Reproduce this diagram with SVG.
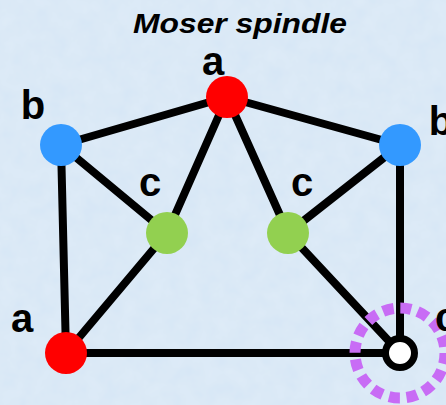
<svg xmlns="http://www.w3.org/2000/svg" width="446" height="405" viewBox="0 0 446 405">
<defs>
<style>
.e{stroke:#000;stroke-width:8;stroke-linecap:round;fill:none}
.lbl{font-family:"Liberation Sans",Arial,sans-serif;font-weight:bold;font-size:40px;fill:#000}
.ttl{font-family:"Liberation Sans",Arial,sans-serif;font-weight:bold;font-style:italic;font-size:28px;fill:#000}
.red{fill:#ff0000}
.blue{fill:#3399ff}
.green{fill:#92d050}
</style>
<filter id="tex" x="0" y="0" width="100%" height="100%">
<feTurbulence type="fractalNoise" baseFrequency="0.06" numOctaves="3" seed="3" result="n"/>
<feColorMatrix in="n" type="matrix" values="0 0 0 0 0.86  0 0 0 0 0.92  0 0 0 0 0.98  0 0 0 0.35 0" result="c"/>
<feComposite in="c" in2="SourceGraphic" operator="over"/>
</filter>
</defs>
<rect width="446" height="405" fill="#d6e6f5" filter="url(#tex)"/>
<text class="ttl" x="240" y="33" text-anchor="middle" textLength="214" lengthAdjust="spacingAndGlyphs">Moser spindle</text>
<g id="connectors">
<line class="e" x1="227" y1="97" x2="61" y2="145"/>
<line class="e" x1="227" y1="97" x2="400" y2="145"/>
<line class="e" x1="227" y1="97" x2="167" y2="233"/>
<line class="e" x1="227" y1="97" x2="288" y2="233"/>
<line class="e" x1="61" y1="145" x2="167" y2="233"/>
<line class="e" x1="400" y1="145" x2="288" y2="233"/>
<line class="e" x1="61" y1="145" x2="66" y2="353"/>
<line class="e" x1="66" y1="353" x2="167" y2="233"/>
<line class="e" x1="66" y1="353" x2="400" y2="353"/>
<line class="e" x1="288" y1="233" x2="400" y2="353"/>
<line class="e" x1="400" y1="145" x2="400" y2="353"/>
</g>
<g id="node-a-top"><circle class="red" cx="227" cy="97" r="21"/><text class="lbl" x="213" y="75" text-anchor="middle">a</text></g>
<g id="node-b-left"><circle class="blue" cx="61" cy="145" r="21"/><text class="lbl" x="33" y="119" text-anchor="middle">b</text></g>
<g id="node-b-right"><circle class="blue" cx="400" cy="145" r="21"/><text class="lbl" x="441" y="135" text-anchor="middle">b</text></g>
<g id="node-c-left"><circle class="green" cx="167" cy="233" r="21"/><text class="lbl" x="150" y="196" text-anchor="middle">c</text></g>
<g id="node-c-right"><circle class="green" cx="288" cy="233" r="21"/><text class="lbl" x="302" y="196" text-anchor="middle">c</text></g>
<g id="node-a-bottom"><circle class="red" cx="66" cy="353" r="21"/><text class="lbl" x="22" y="332" text-anchor="middle">a</text></g>
<g id="node-c-bottom">
<circle cx="400" cy="353" r="45" fill="none" stroke="#c86cf5" stroke-width="11" stroke-dasharray="11 6.67"/>
<circle cx="400" cy="353" r="14.5" fill="#fff" stroke="#000" stroke-width="7"/>
<text class="lbl" x="435" y="331">c</text>
</g>
</svg>
